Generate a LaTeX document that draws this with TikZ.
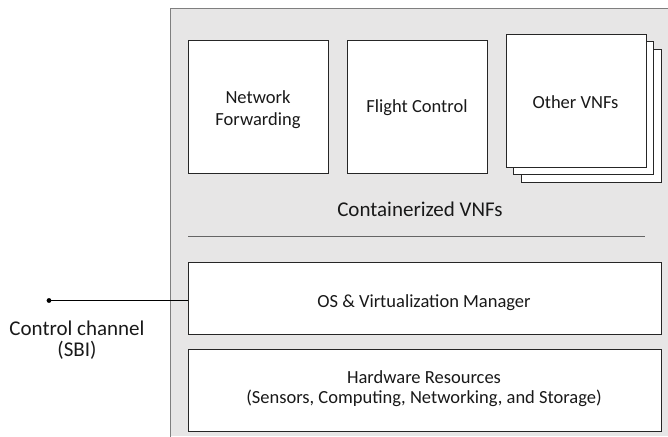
\documentclass[tikz,border=0pt]{standalone}
\usepackage{fontspec}
\setmainfont{Carlito}
\definecolor{panelfill}{HTML}{E7E6E6}
\definecolor{panelline}{HTML}{7F7F7F}
\definecolor{boxline}{HTML}{262626}
\begin{document}
\begin{tikzpicture}[x=1pt,y=-1pt,
  vnfbox/.style={draw=boxline,line width=0.9pt,fill=white,inner sep=0pt,
    minimum width=140pt,minimum height=133pt,anchor=north west},
  layerbox/.style={draw=boxline,line width=0.9pt,fill=white,inner sep=0pt,
    minimum width=473pt,anchor=north west},
  lbl/.style={font=\fontsize{18.5}{20}\selectfont,text=black!90,anchor=base,inner sep=0pt},
  biglbl/.style={font=\fontsize{21}{23}\selectfont,text=black!90,anchor=base,inner sep=0pt}]
\useasboundingbox (0,0) rectangle (668,436);
% host panel (runs off the right and bottom edges)
\fill[panelfill] (170.5,8.5) rectangle (668,436);
\draw[panelline,line width=0.9pt] (170.5,436.5) -- (170.5,8.5) -- (668.5,8.5);
% VNF containers
\node[vnfbox] (nf) at (188,40) {};
\node[lbl] at (258,103) {Network};
\node[lbl] at (258,125) {Forwarding};
\node[vnfbox] (fc) at (347,40) {};
\node[lbl] at (417,112) {Flight Control};
\node[vnfbox] (ov3) at (521,49) {};
\node[vnfbox] (ov2) at (513,41) {};
\node[vnfbox] (ov1) at (505.5,34) {};
\node[lbl] at (575.5,108) {Other VNFs};
\node[biglbl] (cv) at (420,216) {Containerized VNFs};
% separator
\coordinate (sepl) at (188,236);
\coordinate (sepr) at (645,236);
\draw[panelline!80!black,line width=0.8pt] (sepl) -- (sepr);
% layers
\node[layerbox,minimum height=72pt] (os) at (188,262) {};
\node[lbl] at (424,307) {OS \& Virtualization Manager};
\node[layerbox,minimum height=82pt] (hw) at (188,349) {};
\node[lbl] at (424,383) {Hardware Resources};
\node[lbl] at (424,403) {(Sensors, Computing, Networking, and Storage)};
% control channel
\coordinate (dot) at (49,300.5);
\fill[black] (dot) circle (2.4pt);
\draw[black,line width=0.8pt] (dot) -- (dot -| os.west);
\node[biglbl] (cc) at (77,335) {Control channel};
\node[biglbl] at (77,356) {(SBI)};
\end{tikzpicture}
\end{document}
